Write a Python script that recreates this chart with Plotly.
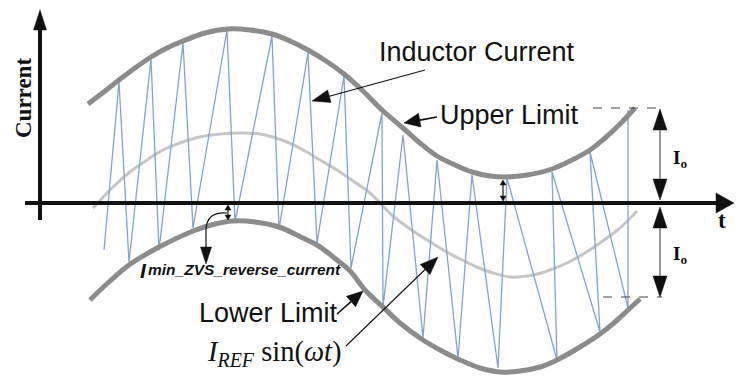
import math
import plotly.graph_objects as go

# Time axis (t) and current axis (i) share one unit per pixel; origin at the axis crossing.
# Upper hysteresis limit
upper_t = [48, 65, 79, 95, 111, 127, 143, 165, 188, 210, 232, 250, 268, 286, 304, 323, 342,
           363, 380, 397, 415, 432, 450, 465, 487, 512, 530, 550, 565, 580, 595]
upper_i = [99, 112, 123, 135, 146, 155, 162, 170, 174, 173, 169, 162, 153, 142, 129, 112, 93,
           75, 60, 47, 38, 31, 27, 26, 28, 34, 42, 53, 65, 79, 95]

# Reference current I_REF sin(wt)
ref_t = [53, 73, 90, 107, 123, 140, 160, 180, 200, 220, 247, 265, 280, 297, 313, 330, 353,
         370, 387, 405, 420, 437, 453, 470, 493, 510, 527, 545, 560, 580, 597]
ref_i = [-5, 16, 31, 43, 53, 60, 66, 69, 70, 69, 61, 52, 43, 33, 22, 10, -13,
         -26, -37, -48, -56, -64, -70, -74, -72, -67, -60, -50, -40, -25, -8]

# Lower hysteresis limit
lower_t = [50, 70, 89, 110, 127, 153, 175, 193, 215, 239, 263, 277, 297, 311, 325, 343,
           360, 383, 400, 420, 440, 460, 480, 500, 517, 540, 560, 575, 588, 600]
lower_i = [-97, -78, -62, -49, -40, -28, -21, -18, -19, -24, -35, -42, -57, -69, -87, -104,
           -120, -137, -147, -157, -165, -169, -168, -164, -157, -144, -131, -119, -107, -96]

# Inductor current (switching ripple vertices)
il_t = [64, 79, 89, 111, 119, 143, 153, 187, 195, 232, 239, 268, 277, 304, 311, 342, 343,
        363, 383, 397, 418, 432, 458, 467, 517, 512, 560, 550, 588, 588]
il_i = [-47, 121, -59, 144, -47, 160, -25, 173, -19, 167, -26, 150, -40, 127, -65, 90, -104,
        68, -135, 43, -155, 28, -165, 25, -157, 31, -129, 51, -105, 93]

INK = "#111111"

fig = go.Figure()
fig.add_trace(go.Scatter(x=ref_t, y=ref_i, mode="lines", line=dict(color="#c6c6c6", width=3, shape="spline"),
                         hoverinfo="skip"))
fig.add_trace(go.Scatter(x=il_t, y=il_i, mode="lines", line=dict(color="#7ea3da", width=1.3),
                         hoverinfo="skip"))
fig.add_trace(go.Scatter(x=upper_t, y=upper_i, mode="lines", line=dict(color="#8c8c8c", width=5, shape="spline"),
                         hoverinfo="skip"))
fig.add_trace(go.Scatter(x=lower_t, y=lower_i, mode="lines", line=dict(color="#8c8c8c", width=5, shape="spline"),
                         hoverinfo="skip"))

shapes = []


def head(tip, tail, length, half, color=INK):
    """Filled triangular arrow head at `tip`, pointing away from `tail`; returns base point."""
    tx, ty = tip
    fx, fy = tail
    d = math.hypot(tx - fx, ty - fy)
    ux, uy = (tx - fx) / d, (ty - fy) / d
    bx, by = tx - ux * length, ty - uy * length
    nx, ny = -uy, ux
    path = (f"M {tx},{ty} L {bx + nx * half},{by + ny * half} "
            f"L {bx - nx * half},{by - ny * half} Z")
    shapes.append(dict(type="path", path=path, xref="x", yref="y", fillcolor=color,
                       line=dict(color=color, width=0.5)))
    return bx, by


def line(p0, p1, color=INK, width=1.2, dash="solid"):
    shapes.append(dict(type="line", xref="x", yref="y", x0=p0[0], y0=p0[1], x1=p1[0], y1=p1[1],
                       line=dict(color=color, width=width, dash=dash)))


def arrow(tail, tip, length, half, color=INK, width=1.2, line_color=None):
    base = head(tip, tail, length, half, color)
    line(tail, base, line_color or color, width)


def double_arrow(p0, p1, length, half, width=1.2, line_color=INK):
    b0 = head(p0, p1, length, half)
    b1 = head(p1, p0, length, half)
    line(b0, b1, line_color, width)


# Coordinate axes
arrow((-15, 0), (694, 0), 18, 10, width=4)
arrow((0, -17), (0, 193), 20, 6.5, width=4)

# Callout arrows
arrow((385, 133), (272, 102), 18, 6.5, width=1.1)
arrow((397, 86), (364, 80), 16, 7, width=1.6)
arrow((297, -111), (323, -88), 16, 7, width=1.6)
arrow((306, -143), (398, -54), 18, 7, width=1.1)

# Curved pointer to the minimum ZVS reverse current gap
shapes.append(dict(type="path", xref="x", yref="y",
                   path="M 187,-10 Q 166,-8 166,-28 L 166,-44",
                   line=dict(color=INK, width=1.2)))
head((166, -61), (166, -40), 17, 5.5)

# Small gap markers between the limits and the time axis
double_arrow((188, -2), (188, -17), 5, 3)
double_arrow((463, 23), (463, 2), 5, 3)

# I_o band markers
line((553, 95), (622, 95), "#444444", 1, "dash")
line((563, -94), (622, -94), "#444444", 1, "dash")
double_arrow((620, 94), (620, 3), 21, 7, width=1.5, line_color="#777777")
double_arrow((620, -4), (620, -94), 21, 7, width=1.5, line_color="#777777")

SANS = "Liberation Sans, Arial, sans-serif"
SERIF = "Liberation Serif, Times New Roman, serif"

annotations = [
    dict(x=-17, y=105, text="<b>Current</b>", textangle=-90, font=dict(family=SERIF, size=23, color=INK)),
    dict(x=337, y=151.5, text="Inductor Current", xanchor="left", font=dict(family=SANS, size=27, color=INK)),
    dict(x=398, y=88, text="Upper Limit", xanchor="left", font=dict(family=SANS, size=27, color=INK)),
    dict(x=157, y=-110, text="Lower Limit", xanchor="left", font=dict(family=SANS, size=27, color=INK)),
    dict(x=165, y=-150, text="<i>I</i><sub><i>REF</i></sub> sin(<i>ωt</i>)", xanchor="left",
         font=dict(family=SERIF, size=28.5, color=INK)),
    dict(x=98, y=-67.5, text="<b><i>I</i></b>", xanchor="left", font=dict(family=SANS, size=21, color=INK)),
    dict(x=106, y=-66, text="<b><i>min_ZVS_reverse_current</i></b>", xanchor="left",
         font=dict(family=SANS, size=15.5, color=INK)),
    dict(x=631, y=44, text="<b>I</b><sub><b>o</b></sub>", xanchor="left", font=dict(family=SERIF, size=19, color=INK)),
    dict(x=631, y=-52, text="<b>I</b><sub><b>o</b></sub>", xanchor="left", font=dict(family=SERIF, size=19, color=INK)),
    dict(x=682, y=-17, text="<b>t</b>", font=dict(family=SERIF, size=23, color=INK)),
]
for a in annotations:
    a.update(xref="x", yref="y", showarrow=False)

fig.update_layout(
    width=736, height=378,
    margin=dict(l=0, r=0, t=0, b=0),
    paper_bgcolor="white", plot_bgcolor="white",
    showlegend=False,
    xaxis=dict(range=[-40, 696], visible=False, fixedrange=True),
    yaxis=dict(range=[-175, 203], visible=False, fixedrange=True),
    shapes=shapes,
    annotations=annotations,
)

fig.write_html("out.html")
